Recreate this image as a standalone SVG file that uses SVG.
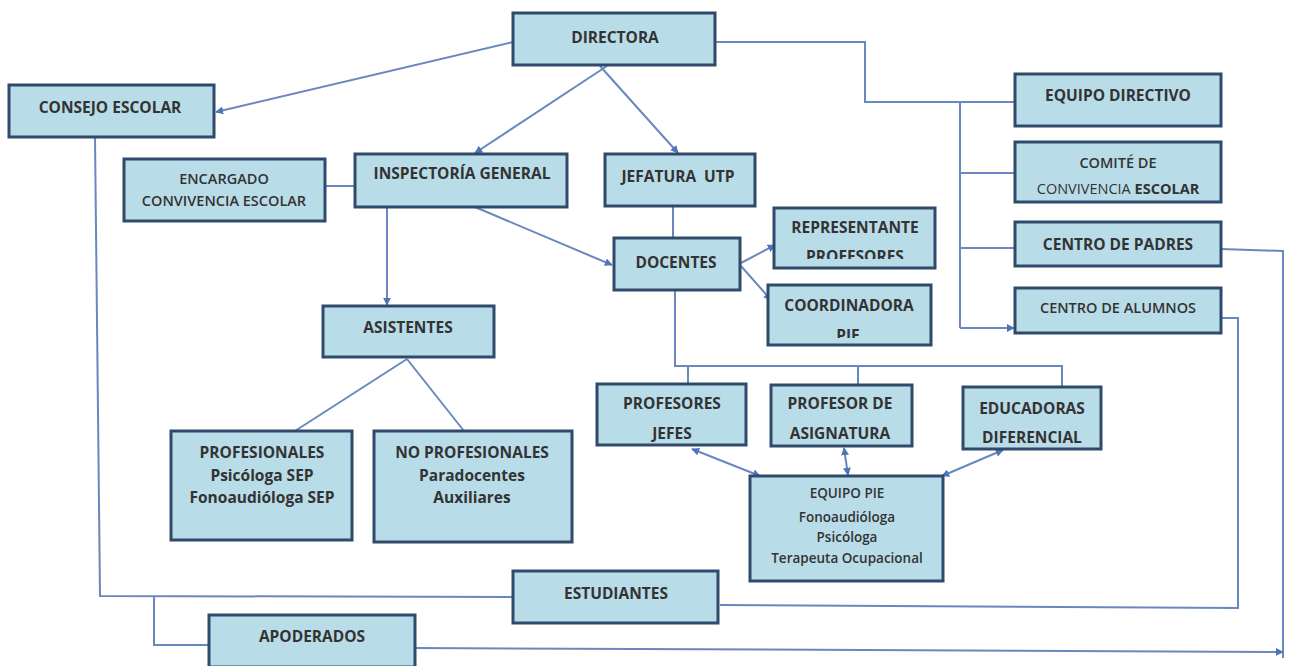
<svg xmlns="http://www.w3.org/2000/svg" width="1290" height="666" viewBox="0 0 1290 666">
<style>
.box{fill:#b9dce9;stroke:#2f4a6b;stroke-width:3}
.t{font-family:"Open Sans","Liberation Sans",sans-serif;font-size:15.5px;font-weight:700;fill:#333;text-anchor:middle;dominant-baseline:central}
.n{font-weight:400}
.s{font-size:14.5px;font-weight:600}
.p{font-size:13.5px;font-weight:600}
.c{fill:none;stroke:#6a88bf;stroke-width:2}
.a{marker-end:url(#ar)}
.b{marker-start:url(#ar);marker-end:url(#ar)}
</style>
<defs>
<marker id="ar" viewBox="0 0 10 10" refX="9" refY="5" markerWidth="4" markerHeight="4" orient="auto-start-reverse" markerUnits="strokeWidth">
<path d="M0,0 L10,5 L0,10 z" fill="#4f74b8"/>
</marker>
<clipPath id="cr"><rect x="774" y="208" width="161" height="51"/></clipPath>
<clipPath id="cp"><rect x="768" y="285" width="163" height="53"/></clipPath>
</defs>
<rect width="1290" height="666" fill="#fff"/>
<g id="connectors">
<line class="c a" x1="513" y1="42" x2="216" y2="112"/>
<line class="c a" x1="607" y1="66" x2="475" y2="153"/>
<line class="c a" x1="600" y1="66" x2="678" y2="153"/>
<polyline class="c" points="715,42 865,42 865,102 1015,102"/>
<polyline class="c" points="960,102 960,328"/>
<line class="c" x1="960" y1="173" x2="1015" y2="173"/>
<line class="c" x1="960" y1="248" x2="1015" y2="248"/>
<line class="c a" x1="960" y1="328" x2="1014" y2="328"/>
<line class="c" x1="325" y1="186" x2="355" y2="186"/>
<line class="c a" x1="387" y1="207" x2="387" y2="305"/>
<line class="c" x1="407" y1="359" x2="295" y2="431"/>
<line class="c" x1="407" y1="359" x2="464" y2="431"/>
<line class="c a" x1="475" y1="207" x2="612" y2="265"/>
<line class="c" x1="673" y1="206" x2="673" y2="238"/>
<line class="c a" x1="741" y1="263" x2="775" y2="245"/>
<line class="c a" x1="741" y1="266" x2="771" y2="300"/>
<polyline class="c" points="675,290 675,366 1062,366 1062,386"/>
<line class="c" x1="688" y1="366" x2="688" y2="384"/>
<line class="c" x1="858" y1="366" x2="858" y2="384"/>
<line class="c b" x1="692" y1="449" x2="760" y2="476"/>
<line class="c b" x1="844" y1="448" x2="848" y2="475"/>
<line class="c b" x1="1003" y1="450" x2="942" y2="476"/>
<polyline class="c" points="95,137 100,596 513,597"/>
<polyline class="c" points="154,596 154,645 209,645"/>
<polyline class="c" points="1221,249 1283,251 1283,658"/>
<line class="c a" x1="415" y1="648" x2="1283" y2="652"/>
<polyline class="c" points="1221,318 1238,318 1238,608 720,605"/>
</g>
<g id="directora"><rect class="box" x="513" y="13" width="202" height="52"/><text class="t" x="615" y="37">DIRECTORA</text></g>
<g id="consejo-escolar"><rect class="box" x="9" y="85" width="205" height="52"/><text class="t" x="110" y="107">CONSEJO ESCOLAR</text></g>
<g id="encargado"><rect class="box" x="124" y="159" width="201" height="62"/><text class="t s" x="224" y="178">ENCARGADO</text><text class="t s" x="224" y="200">CONVIVENCIA ESCOLAR</text></g>
<g id="inspectoria"><rect class="box" x="355" y="154" width="212" height="53"/><text class="t" x="462" y="173">INSPECTORÍA GENERAL</text></g>
<g id="jefatura"><rect class="box" x="605" y="154" width="150" height="52"/><text class="t" x="678" y="176" xml:space="preserve">JEFATURA  UTP</text></g>
<g id="equipo-directivo"><rect class="box" x="1015" y="74" width="206" height="52"/><text class="t" x="1118" y="95">EQUIPO DIRECTIVO</text></g>
<g id="comite"><rect class="box" x="1015" y="142" width="206" height="60"/><text class="t s" x="1118" y="162">COMITÉ DE</text><text class="t s" x="1118" y="188"><tspan class="n">CONVIVENCIA</tspan> <tspan font-weight="700">ESCOLAR</tspan></text></g>
<g id="centro-padres"><rect class="box" x="1015" y="222" width="206" height="44"/><text class="t" x="1118" y="244">CENTRO DE PADRES</text></g>
<g id="centro-alumnos"><rect class="box" x="1015" y="288" width="206" height="45"/><text class="t s" x="1118" y="307">CENTRO DE ALUMNOS</text></g>
<g id="docentes"><rect class="box" x="614" y="238" width="126" height="52"/><text class="t" x="676" y="262">DOCENTES</text></g>
<g id="representante"><rect class="box" x="774" y="208" width="161" height="60"/><text class="t" x="855" y="227">REPRESENTANTE</text><text class="t" x="855" y="256" clip-path="url(#cr)">PROFESORES</text></g>
<g id="coordinadora"><rect class="box" x="768" y="285" width="163" height="60"/><text class="t" x="849" y="305">COORDINADORA</text><text class="t" x="848" y="335" clip-path="url(#cp)">PIE</text></g>
<g id="asistentes"><rect class="box" x="323" y="306" width="171" height="51"/><text class="t" x="408" y="327">ASISTENTES</text></g>
<g id="profesionales"><rect class="box" x="171" y="431" width="181" height="109"/><text class="t" x="262" y="452">PROFESIONALES</text><text class="t" x="262" y="475">Psicóloga SEP</text><text class="t" x="262" y="497">Fonoaudióloga SEP</text></g>
<g id="no-profesionales"><rect class="box" x="374" y="431" width="198" height="111"/><text class="t" x="472" y="452">NO PROFESIONALES</text><text class="t" x="472" y="475">Paradocentes</text><text class="t" x="472" y="497">Auxiliares</text></g>
<g id="profesores-jefes"><rect class="box" x="597" y="384" width="149" height="61"/><text class="t" x="672" y="403">PROFESORES</text><text class="t" x="672" y="433">JEFES</text></g>
<g id="profesor-asignatura"><rect class="box" x="771" y="385" width="141" height="61"/><text class="t" x="840" y="403">PROFESOR DE</text><text class="t" x="840" y="433">ASIGNATURA</text></g>
<g id="educadoras"><rect class="box" x="963" y="387" width="138" height="62"/><text class="t" x="1032" y="408">EDUCADORAS</text><text class="t" x="1032" y="437">DIFERENCIAL</text></g>
<g id="equipo-pie"><rect class="box" x="750" y="476" width="193" height="105"/><text class="t p" x="847" y="493">EQUIPO PIE</text><text class="t p" x="847" y="517">Fonoaudióloga</text><text class="t p" x="847" y="537">Psicóloga</text><text class="t p" x="847" y="558">Terapeuta Ocupacional</text></g>
<g id="estudiantes"><rect class="box" x="513" y="571" width="205" height="52"/><text class="t" x="616" y="593">ESTUDIANTES</text></g>
<g id="apoderados"><rect class="box" x="209" y="615" width="206" height="52"/><text class="t" x="312" y="636">APODERADOS</text></g>
</svg>
